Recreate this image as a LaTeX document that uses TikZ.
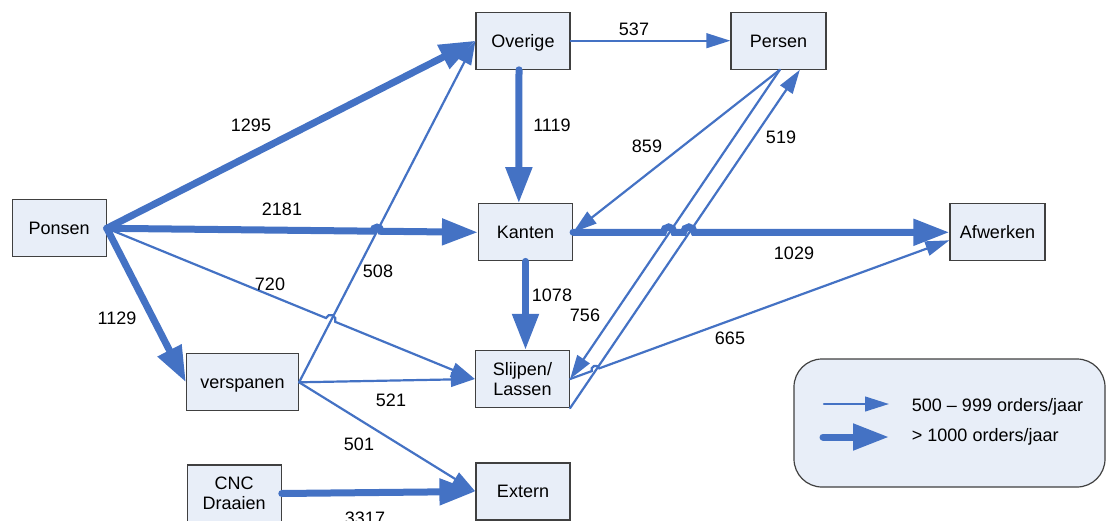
\documentclass[tikz,border=0pt]{standalone}
\usepackage{fontspec}
\setmainfont{Liberation Sans}
\usetikzlibrary{arrows.meta,calc}
\definecolor{flow}{RGB}{68,114,196}
\definecolor{boxfill}{RGB}{232,238,248}
\definecolor{boxline}{RGB}{64,64,64}
\begin{document}
\begin{tikzpicture}[x=0.75pt,y=-0.75pt,
  every node/.style={font=\fontsize{13.5}{15}\selectfont},
  station/.style={draw=boxline, line width=0.9pt, fill=boxfill,
    minimum width=70.5pt, minimum height=42.75pt, inner sep=0pt, align=center},
  oneline/.style={station, text height=9.7pt, text depth=0pt},
  lowflow/.style={draw=flow, line width=1.65pt, line cap=round,
    -{Triangle[length=18pt,width=11pt]}},
  highflow/.style={draw=flow, line width=5.25pt, line cap=round,
    -{Triangle[length=27pt,width=19pt]}},
  qty/.style={inner sep=1pt},
]
\useasboundingbox (0,0) rectangle (1107,521);
\clip (0,0) rectangle (1107,521);

% work stations
\node[oneline] (Ponsen) at (59.2,228.3) {Ponsen};
\node[oneline] (Overige) at (523,40.7) {Overige};
\node[oneline, minimum width=71.25pt] (Persen) at (778.5,40.7) {Persen};
\node[oneline] (Kanten) at (525.5,232.3) {Kanten};
\node[oneline, minimum width=71.25pt] (Afwerken) at (997.5,232.3) {Afwerken};
\node[oneline, minimum width=84pt] (verspanen) at (242.5,382.3) {verspanen};
\node[station] (Slijpen) at (522.5,379) {Slijpen/\\Lassen};
\node[station] (CNC) at (234.2,493.5) {CNC\\Draaien};
\node[oneline] (Extern) at (523,491.5) {Extern};

% helper points on the connectors (line jumps and shifted ends)
\coordinate (persOut) at ([xshift=1pt]Persen.south);
\coordinate (persIn) at ([xshift=16pt]Persen.south);
\coordinate (afwIn) at ([yshift=-6pt]Afwerken.west);
\coordinate (ovOut) at ([xshift=-3pt]Overige.south);
\coordinate (kaIn) at ([xshift=-5pt]Kanten.north);
\coordinate (slIn) at (Kanten.south |- Slijpen.north);
\coordinate (jA) at ($(Ponsen.east)!0.728!(Kanten.west)$);
\coordinate (jB) at ($(Kanten.east)!0.254!(Afwerken.west)$);
\coordinate (jC) at ($(Kanten.east)!0.3077!(Afwerken.west)$);
\coordinate (jD) at ($(Ponsen.east)!0.6079!(Slijpen.west)$);
\coordinate (jE) at ($(Slijpen.east)!0.0668!(afwIn)$);

% flows of 500 - 999 orders per year
\draw[lowflow] (Overige.east) -- (Persen.west);
\draw[lowflow] (persOut) -- (Kanten.east);
\draw[lowflow] (persOut) -- (Slijpen.east);
\draw[lowflow] (Slijpen.south east) -- (persIn);
\draw[lowflow] (verspanen.east) -- (Overige.west);
\draw[lowflow] (verspanen.east) -- (Slijpen.west);
\draw[lowflow] (verspanen.east) -- (Extern.west);
\draw[lowflow] (Ponsen.east) -- ($(jD)!3.75pt!(Ponsen.east)$)
  arc[start angle=157.75, end angle=-22.25, radius=3.75pt] -- (Slijpen.west);
\draw[lowflow] (Slijpen.east) -- ($(jE)!3pt!(Slijpen.east)$)
  arc[start angle=200.05, end angle=20.05, radius=3pt] -- (afwIn);

% flows of more than 1000 orders per year
\draw[highflow] (Ponsen.east) -- (Overige.west);
\draw[highflow] (Ponsen.east) -- ($(jA)!3pt!(Ponsen.east)$)
  arc[start angle=179.4, end angle=-0.6, radius=3pt] -- (Kanten.west);
\draw[highflow] (Ponsen.east) -- (verspanen.west);
\draw[highflow] (ovOut) -- (kaIn);
\draw[highflow] (Kanten.south) -- (slIn);
\draw[highflow] (Kanten.east) -- ($(jB)+(-4pt,0)$)
  arc[start angle=180, end angle=0, radius=4pt] -- ($(jC)+(-4pt,0)$)
  arc[start angle=180, end angle=0, radius=4pt] -- (Afwerken.west);
\draw[highflow] (CNC.east) -- (Extern.west);

% order quantities
\node[qty] (q1295) at (251,125) {1295};
\node[qty] (q2181) at (282,209) {2181};
\node[qty] (q1129) at (117,318) {1129};
\node[qty] (q720) at (270,284) {720};
\node[qty] (q508) at (378,271) {508};
\node[qty] (q537) at (634,29) {537};
\node[qty] (q1119) at (552,125) {1119};
\node[qty] (q859) at (647,146) {859};
\node[qty] (q519) at (781,137) {519};
\node[qty] (q1029) at (794,253) {1029};
\node[qty] (q1078) at (552,295) {1078};
\node[qty] (q756) at (585,315) {756};
\node[qty] (q665) at (730,338) {665};
\node[qty] (q521) at (391,400) {521};
\node[qty] (q501) at (359,444) {501};
\node[qty] (q3317) at (365,518) {3317};

% legend
\node[draw=boxline, fill=boxfill, line width=0.9pt, rounded corners=21pt,
  minimum width=233.25pt, minimum height=96pt, inner sep=0pt] (legend) at (949.5,423) {};
\coordinate (lowA) at (824,404);
\coordinate (lowB) at (889,404);
\coordinate (highA) at (823,437);
\coordinate (highB) at (889,437);
\draw[lowflow] (lowA) -- (lowB);
\draw[highflow] (highA) -- (highB);
\node[anchor=west, inner sep=0pt] (lowtxt) at (911.7,406.5) {500 – 999 orders/jaar};
\node[anchor=west, inner sep=0pt] (hightxt) at (911.7,437) {> 1000 orders/jaar};
\end{tikzpicture}
\end{document}
